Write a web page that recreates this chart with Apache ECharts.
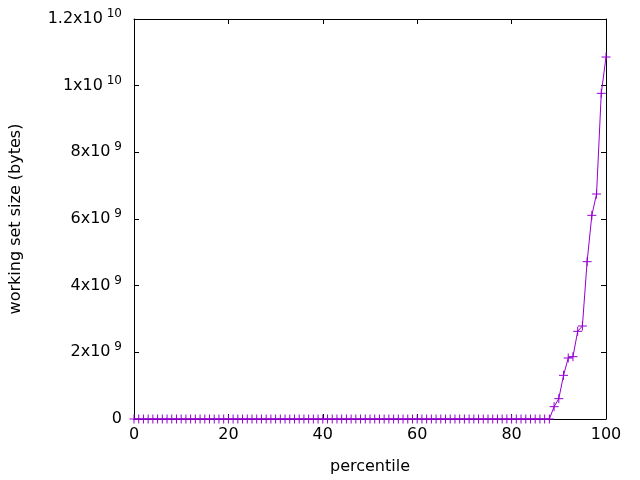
<!DOCTYPE html>
<html>
<head>
<meta charset="utf-8">
<script src="https://cdn.jsdelivr.net/npm/echarts@6/dist/echarts.min.js"></script>
<style>html,body{margin:0;padding:0;background:#fff;}#c{width:640px;height:480px;}</style>
</head>
<body>
<div id="c"></div>
<script>
const percentiles = [0,1,2,3,4,5,6,7,8,9,10,11,12,13,14,15,16,17,18,19,20,21,22,23,24,25,26,27,28,29,30,31,32,33,34,35,36,37,38,39,40,41,42,43,44,45,46,47,48,49,50,51,52,53,54,55,56,57,58,59,60,61,62,63,64,65,66,67,68,69,70,71,72,73,74,75,76,77,78,79,80,81,82,83,84,85,86,87,88,89,90,91,92,93,94,95,96,97,98,99,100];
const workingSetBytes = [0,0,0,0,0,0,0,0,0,0, 0,0,0,0,0,0,0,0,0,0, 0,0,0,0,0,0,0,0,0,0, 0,0,0,0,0,0,0,0,0,0, 0,0,0,0,0,0,0,0,0,0, 0,0,0,0,0,0,0,0,0,0, 0,0,0,0,0,0,0,0,0,0, 0,0,0,0,0,0,0,0,0,0, 0,0,0,0,0,0,0,0,0,
  0.37e9, 0.61e9, 1.31e9, 1.83e9, 1.87e9, 2.63e9, 2.79e9, 4.72e9, 6.11e9, 6.75e9, 9.77e9, 10.86e9];
const yTickLabels = {0:'0', 2e9:'2x10|9', 4e9:'4x10|9', 6e9:'6x10|9', 8e9:'8x10|9', 1e10:'1x10|10', 1.2e10:'1.2x10|10'};
const xTitle = 'percentile';
const yTitle = 'working set size (bytes)';

const FONT = 'DejaVu Sans';
const chart = echarts.init(document.getElementById('c'), null, {renderer:'canvas'});
const data = percentiles.map((p,i)=>[p, workingSetBytes[i]]);
const plus = 'path://M0,5H10M5,0V10';
const axisLine = {show:true, onZero:false, lineStyle:{color:'#000', width:1}};
const tick = {show:true, inside:true, length:5, lineStyle:{color:'#000'}};
chart.setOption({
  animation:false,
  backgroundColor:'#fff',
  grid:{left:134, top:19, right:34, bottom:61, show:false},
  xAxis:[{
    type:'value', min:0, max:100, interval:20,
    axisLine:axisLine, axisTick:tick, splitLine:{show:false},
    axisLabel:{color:'#000', fontFamily:FONT, fontSize:16, margin:8},
    name:xTitle, nameLocation:'middle', nameGap:40,
    nameTextStyle:{color:'#000', fontFamily:FONT, fontSize:16}
  },{
    type:'value', min:0, max:100, interval:20, position:'top',
    axisLine:axisLine, axisTick:tick, splitLine:{show:false}, axisLabel:{show:false}
  }],
  yAxis:[{
    type:'value', min:0, max:1.2e10, interval:2e9,
    axisLine:axisLine, axisTick:tick, splitLine:{show:false},
    axisLabel:{
      margin:12, align:'right',
      formatter:function(v){
        const s = yTickLabels[v];
        if (s===undefined) return '';
        const parts = s.split('|');
        if (parts.length===1) return '{m|'+parts[0]+'}';
        return '{m|'+parts[0]+'}{s| '+parts[1]+'}';
      },
      rich:{
        m:{color:'#000', fontFamily:FONT, fontSize:16},
        s:{color:'#000', fontFamily:FONT, fontSize:12, padding:[0,0,10,0]}
      }
    },
    name:yTitle, nameLocation:'middle', nameGap:110, nameRotate:90,
    nameTextStyle:{color:'#000', fontFamily:FONT, fontSize:16}
  },{
    type:'value', min:0, max:1.2e10, interval:2e9, position:'right',
    axisLine:axisLine, axisTick:tick, splitLine:{show:false}, axisLabel:{show:false}
  }],
  series:[{
    type:'line', data:data, xAxisIndex:0, yAxisIndex:0,
    symbol:plus, symbolSize:9, showAllSymbol:true,
    lineStyle:{color:'#9400d3', width:1},
    itemStyle:{color:'rgba(0,0,0,0)', borderColor:'#9400d3', borderWidth:1},
    clip:false
  }]
});
</script>
</body>
</html>
